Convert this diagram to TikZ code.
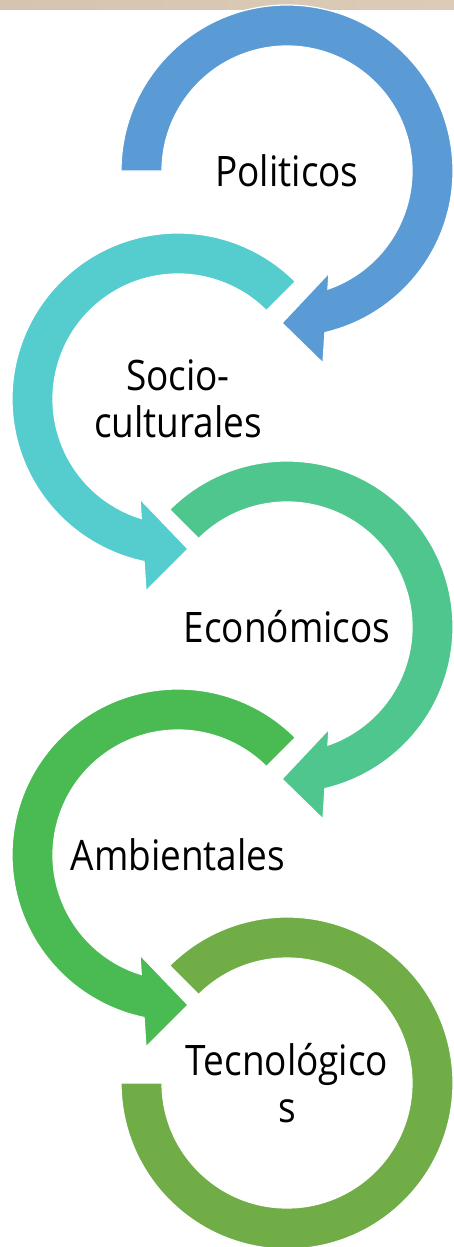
\documentclass[tikz,border=0pt]{standalone}
\usepackage{fontspec}
\setmainfont{Open Sans}[FakeStretch=0.88]
\usetikzlibrary{calc}
\definecolor{cBlue}{RGB}{91,155,213}
\definecolor{cTeal}{RGB}{85,204,205}
\definecolor{cSea}{RGB}{80,198,143}
\definecolor{cGreen}{RGB}{74,187,82}
\definecolor{cOlive}{RGB}{112,173,71}
\definecolor{bandA}{RGB}{212,196,176}
\definecolor{bandB}{RGB}{231,217,198}
\definecolor{bandC}{RGB}{220,204,183}
% clockwise circular arrow: #1 centre, #2 start angle, #3 colour
\newcommand{\ArrCW}[3]{%
  \path[ring, fill=#3] ($(#1)+(#2:166)$) arc[start angle=#2, end angle=-76.8, radius=166pt]
    -- ($(#1)+(36,-192)$) -- ($(#1)+(-5,-152)$) -- ($(#1)+(42,-102)$)
    -- ($(#1)+(-70.9:125)$) arc[start angle=-70.9, end angle=#2, radius=125pt] -- cycle;}
% counter-clockwise circular arrow
\newcommand{\ArrCCW}[3]{%
  \path[ring, fill=#3] ($(#1)+(#2:166)$) arc[start angle=#2, end angle=258.2, radius=166pt]
    -- ($(#1)+(-32,-192)$) -- ($(#1)+(10,-150)$) -- ($(#1)+(-38,-100)$)
    -- ($(#1)+(252.9:125)$) arc[start angle=252.9, end angle=#2, radius=125pt] -- cycle;}
\begin{document}
\begin{tikzpicture}[x=1pt,y=1pt,
  ring/.style={draw=white, line width=1.2pt, line join=miter},
  lbl/.style={font=\fontsize{42}{47}\selectfont, align=center, text=black, inner sep=0pt}]
\useasboundingbox (0,0) rectangle (454,-1247);
\clip (0,0) rectangle (454,-1247);
\shade[left color=bandA, middle color=bandB, right color=bandC] (0,0) rectangle (454,-9.5);
\coordinate (c1) at (287,-171);
\coordinate (c2) at (178,-399);
\coordinate (c3) at (287,-627);
\coordinate (c4) at (178,-855);
\coordinate (c5) at (287,-1083);
\ArrCW{c1}{180}{cBlue}
\ArrCCW{c2}{45}{cTeal}
\ArrCW{c3}{135}{cSea}
\ArrCCW{c4}{45}{cGreen}
\path[ring, fill=cOlive] ($(c5)+(135:166)$) arc[start angle=135, end angle=-180, radius=166pt]
  -- ($(c5)+(-180:125)$) arc[start angle=-180, end angle=135, radius=125pt] -- cycle;
\node[lbl] (t1) at (c1) {Politicos};
\node[lbl] (t2) at (c2) {Socio-\\culturales};
\node[lbl] (t3) at (c3) {Económicos};
\node[lbl] (t4) at (c4) {Ambientales};
\node[lbl] (t5) at (c5) {Tecnológico\\s};
\end{tikzpicture}
\end{document}
